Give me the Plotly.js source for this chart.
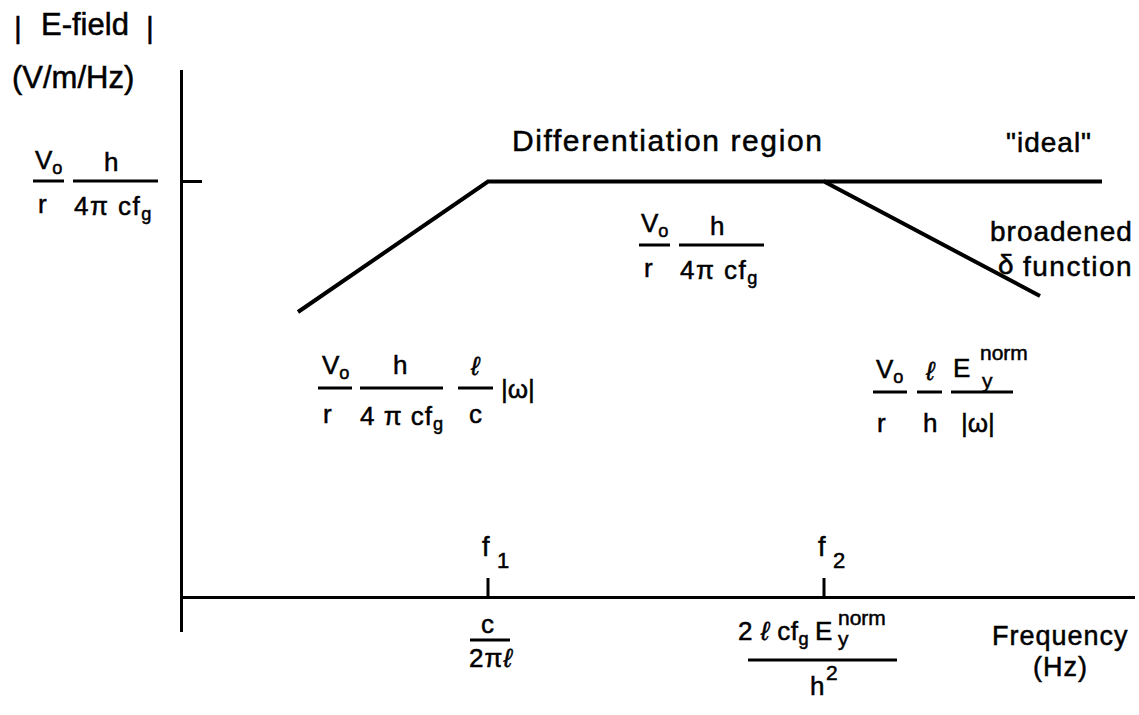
<!DOCTYPE html>
<html>
<head>
<meta charset="utf-8">
<script src="https://cdn.plot.ly/plotly-3.0.1.min.js"></script>
<style>
  html, body { margin: 0; padding: 0; background: #fff; }
  #chart { width: 1139px; height: 715px; }
  /* slightly heavier lettering, like the printed figure */
  #chart .annotation-text { stroke: #000; stroke-width: 0.5px; }
</style>
</head>
<body>
<div id="chart"></div>
<script>
// Spectrum of the radiated E-field: schematic, in relative units
// (frequency axis starts at 0, amplitude axis starts at 0).
const plateauAmp = 4.155;                 // V0/r * h/(4 pi c fg)
const cornerFreqs = [3.05, 6.41];         // f1, f2
const cornerNames = ['1', '2'];
const responseFreq = [1.15, 3.05, 6.41, 8.57];
const responseAmp  = [2.85, plateauAmp, plateauAmp, 3.01];
const idealFreq = [6.41, 9.19];
const idealAmp  = [plateauAmp, plateauAmp];
const freqMax = 9.52;

const W = 1139, H = 715;
const M = { l: 183, r: 4, t: 70, b: 83 };
const plotW = W - M.l - M.r, plotH = H - M.t - M.b;
const PX = px => (px - M.l) / plotW;
const PY = py => (H - M.b - py) / plotH;

const FONT = 'Liberation Sans, Arial, Helvetica, sans-serif';
const annotations = [];
const shapes = [];

function txt(px, py, text, size, opts) {
  opts = opts || {};
  const body = opts.ls ? '<span style="letter-spacing:' + opts.ls + 'px">' + text + '</span>' : text;
  annotations.push({
    xref: 'paper', yref: 'paper', x: PX(px), y: PY(py),
    xanchor: opts.anchor || 'center', yanchor: 'middle',
    text: body, showarrow: false,
    font: { family: FONT, size: size, color: '#000' }
  });
}
function bar(x0, x1, py) {
  shapes.push({
    type: 'line', xref: 'paper', yref: 'paper',
    x0: PX(x0), x1: PX(x1), y0: PY(py), y1: PY(py),
    line: { color: '#000', width: 3 }
  });
}

const F = 26;   // formula size
const S = 21;   // stacked scripts

// axis titles
txt(18, 28, '|', 30);
txt(150, 28, '|', 30);
txt(85, 25, 'E-field', 31);
txt(73, 78, '(V/m/Hz)', 31);
txt(1060, 636, 'Frequency', 27, { ls: 1 });
txt(1060, 667, '(Hz)', 27, { ls: 1 });

// region labels
txt(667, 140, 'Differentiation region', 30, { ls: 1.6 });
txt(1049, 142, '"ideal"', 28, { ls: 1 });
txt(1135, 231, 'broadened', 28, { anchor: 'right', ls: 1 });
txt(1135, 266, 'function', 28, { anchor: 'right', ls: 1.5 });
txt(1006, 264, 'δ', 28);

// plateau formula (drawn at the tick and in the middle)
function plateau(dx, dy) {
  txt(48 + dx, 161 + dy, 'V<sub>o</sub>', F);
  bar(33 + dx, 64 + dx, 181 + dy);
  txt(111 + dx, 162 + dy, 'h', F);
  bar(73 + dx, 158 + dx, 181 + dy);
  txt(42 + dx, 204 + dy, 'r', F);
  txt(113 + dx, 207 + dy, '4π cf<sub>g</sub>', F, { ls: 1.5 });
}
plateau(0, 0);
plateau(606, 64);

// low-frequency asymptote
txt(335, 366, 'V<sub>o</sub>', F);
bar(318, 352, 388);
txt(400, 365, 'h', F);
bar(360, 443, 388);
txt(475, 366, '<i>ℓ</i>', F);
bar(458, 493, 388);
txt(518, 389, '|ω|', F);
txt(327, 414, 'r', F);
txt(402, 417, '4 π cf<sub>g</sub>', F, { ls: 1 });
txt(475, 414, 'c', F);

// high-frequency asymptote
txt(889, 370, 'V<sub>o</sub>', F);
bar(873, 907, 392);
txt(930, 371, '<i>ℓ</i>', F);
bar(917, 942, 392);
txt(961, 368, 'E', F);
txt(1004, 352, 'norm', S);
txt(987, 381, 'y', S);
bar(951, 1013, 392);
txt(881, 423, 'r', F);
txt(930, 423, 'h', F);
txt(978, 423, '|ω|', F);

// corner frequency labels and ticks on the frequency axis
cornerFreqs.forEach((f, i) => {
  const px = M.l + f / freqMax * plotW;
  txt(px - 2, 547, 'f', F + 1);
  txt(px + 15, 560, cornerNames[i], S + 1);
  shapes.push({
    type: 'line', xref: 'x', yref: 'y',
    x0: f, x1: f, y0: 0, y1: 0.19,
    line: { color: '#000', width: 3 }
  });
});

// f1 = c / (2 pi l)
txt(487, 624, 'c', F);
bar(470, 510, 640);
txt(491, 658, '2π<i>ℓ</i>', F, { ls: 1 });

// f2 = 2 l c fg Ey^norm / h^2
txt(773, 632, '2 <i>ℓ</i> cf<sub>g</sub>', F, { ls: 0.5 });
txt(823, 631, 'E', F);
txt(862, 617, 'norm', S);
txt(843, 638, 'y', S);
bar(748, 897, 660);
txt(817, 686, 'h', F);
txt(832, 672, '2', S);

const traces = [
  { x: responseFreq, y: responseAmp, mode: 'lines',
    line: { color: '#000', width: 4 }, hoverinfo: 'skip' },
  { x: idealFreq, y: idealAmp, mode: 'lines',
    line: { color: '#000', width: 4 }, hoverinfo: 'skip' }
];

const layout = {
  width: W, height: H,
  margin: M,
  paper_bgcolor: '#fff', plot_bgcolor: '#fff',
  showlegend: false,
  xaxis: {
    range: [0, freqMax], showgrid: false, zeroline: false,
    showline: false, showticklabels: false, ticks: ''
  },
  yaxis: {
    range: [-0.35, 5.27], showgrid: false,
    zeroline: true, zerolinewidth: 3, zerolinecolor: '#000',
    showline: true, linewidth: 3, linecolor: '#000',
    ticks: 'inside', tickvals: [plateauAmp], ticklen: 19,
    tickwidth: 3, tickcolor: '#000', showticklabels: false
  },
  annotations: annotations,
  shapes: shapes
};

Plotly.newPlot('chart', traces, layout, { staticPlot: true, displayModeBar: false });
</script>
</body>
</html>
